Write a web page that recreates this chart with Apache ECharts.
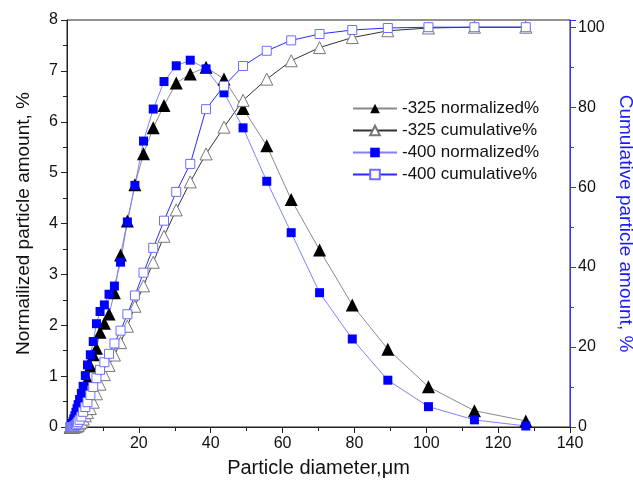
<!DOCTYPE html>
<html>
<head>
<meta charset="utf-8">
<title>Particle size distribution</title>
<script src="https://cdn.jsdelivr.net/npm/echarts@6/dist/echarts.min.js"></script>
<style>
  html, body { margin: 0; padding: 0; background: #fff; }
  #chart { width: 633px; height: 486px; }
</style>
</head>
<body>
<div id="chart"></div>
<script>
// particle diameter bins, um
var diameters = [0.9, 1.1, 1.3, 1.5, 1.7, 1.9, 2.2, 2.5, 2.8, 3.1, 3.5, 4.0, 4.5, 5.1, 5.7, 6.5, 7.3, 8.2, 9.2, 10.4,
  11.7, 13.2, 14.9, 16.8, 18.9, 21.3, 24.0, 27.0, 30.4, 34.3, 38.7, 43.7, 49.0, 55.6, 62.4, 70.3, 79.4, 89.3, 100.6, 113.4, 127.7];

var norm325 = [0, 0, 0, 0.01, 0.02, 0.03, 0.06, 0.09, 0.14, 0.20, 0.28, 0.38, 0.50, 0.67, 0.94, 1.20, 1.42, 1.55, 1.86, 2.04,
  2.22, 2.64, 3.38, 4.05, 4.76, 5.37, 5.88, 6.32, 6.76, 6.94, 7.07, 6.84, 6.26, 5.53, 4.47, 3.48, 2.40, 1.53, 0.79, 0.32, 0.12];

var cum325 = [0, 0, 0, 0, 0, 0, 0, 0.1, 0.2, 0.4, 0.8, 1.2, 2.0, 2.8, 3.6, 4.6, 6.2, 8.3, 10.7, 13.1,
  15.4, 18.0, 21.1, 25.2, 30.2, 35.3, 41.2, 47.7, 54.3, 61.3, 68.3, 75.0, 81.7, 87.0, 91.6, 94.9, 97.4, 99.1, 99.8, 100, 100];

var norm400 = [0.01, 0.02, 0.04, 0.07, 0.11, 0.16, 0.22, 0.29, 0.36, 0.44, 0.54, 0.66, 0.80, 1.01, 1.22, 1.42, 1.68, 2.03, 2.27, 2.40,
  2.61, 2.77, 3.24, 4.03, 4.75, 5.62, 6.25, 6.79, 7.10, 7.21, 7.04, 6.57, 5.88, 4.83, 3.82, 2.64, 1.73, 0.92, 0.40, 0.14, 0.02];

var cum400 = [0, 0, 0, 0, 0, 0.1, 0.3, 0.5, 0.8, 1.2, 1.8, 2.6, 3.8, 5.0, 6.2, 8.0, 10.0, 12.2, 14.3, 16.2,
  18.3, 20.9, 24.1, 28.2, 32.9, 38.6, 44.8, 51.6, 58.8, 65.8, 79.5, 85.3, 90.3, 94.1, 96.7, 98.3, 99.3, 99.8, 100, 100, 100];

var xTicks = [0, 20, 40, 60, 80, 100, 120, 140];

function pairs(vals) {
  return diameters.map(function (d, i) { return [d, vals[i]]; });
}

var font = 'Liberation Sans, Arial, sans-serif';
var chart = echarts.init(document.getElementById('chart'));

chart.setOption({
  animation: false,
  backgroundColor: '#fff',
  textStyle: { fontFamily: font },
  grid: {
    left: 67, right: 63, top: 20, bottom: 59,
    outerBoundsMode: 'none', containLabel: false,
    show: true, borderColor: '#222', borderWidth: 1
  },
  legend: {
    orient: 'vertical',
    left: 347, top: 95,
    itemWidth: 44, itemHeight: 12, itemGap: 5,
    textStyle: { fontSize: 17, color: '#111', fontFamily: font },
    data: ['-325 normalized%', '-325 cumulative%', '-400 normalized%', '-400 cumulative%']
  },
  xAxis: {
    type: 'value',
    min: xTicks[0], max: xTicks[xTicks.length - 1], interval: 20,
    name: 'Particle diameter,\u03bcm',
    nameLocation: 'middle', nameGap: 31,
    nameTextStyle: { fontSize: 20, color: '#111' },
    axisLine: { lineStyle: { color: '#222' } },
    axisTick: { inside: false, length: 6, lineStyle: { color: '#222' } },
    minorTick: { show: true, splitNumber: 2, length: 4, lineStyle: { color: '#222' } },
    axisLabel: { fontSize: 16, color: '#111', margin: 9, showMinLabel: false },
    splitLine: { show: false }
  },
  yAxis: [{
    type: 'value',
    min: 0, max: 8, interval: 1,
    name: 'Normailized particle amount, %',
    nameLocation: 'middle', nameGap: 34,
    nameTextStyle: { fontSize: 19, color: '#111' },
    axisLine: { show: true, lineStyle: { color: '#222' } },
    axisTick: { length: 6, lineStyle: { color: '#222' } },
    minorTick: { show: true, splitNumber: 2, length: 4, lineStyle: { color: '#222' } },
    axisLabel: { fontSize: 16, color: '#111', margin: 9 },
    splitLine: { show: false }
  }, {
    type: 'value',
    position: 'right',
    min: 0, max: 101.8, interval: 20,
    name: 'Cumulative particle amount, %',
    nameLocation: 'middle', nameGap: 41, nameRotate: -90,
    nameTextStyle: { fontSize: 19, color: '#1a1aff' },
    axisLine: { show: true, lineStyle: { color: '#3333ff' } },
    axisTick: { length: 6, lineStyle: { color: '#3333ff' } },
    minorTick: { show: true, splitNumber: 2, length: 4, lineStyle: { color: '#3333ff' } },
    axisLabel: { fontSize: 16, color: '#111', margin: 8, showMaxLabel: false },
    splitLine: { show: false }
  }],
  series: [{
    name: '-325 normalized%',
    type: 'line', yAxisIndex: 0,
    data: pairs(norm325),
    symbol: 'triangle', symbolSize: 13,
    itemStyle: { color: '#000', borderColor: '#000', borderWidth: 0 },
    lineStyle: { color: '#8a8a8a', width: 1 }
  }, {
    name: '-325 cumulative%',
    type: 'line', yAxisIndex: 1,
    data: pairs(cum325),
    symbol: 'triangle', symbolSize: 12,
    itemStyle: { color: '#fff', borderColor: '#777', borderWidth: 1 },
    lineStyle: { color: '#333', width: 1 }
  }, {
    name: '-400 normalized%',
    type: 'line', yAxisIndex: 0,
    data: pairs(norm400),
    symbol: 'rect', symbolSize: 9,
    itemStyle: { color: '#0000ff', borderColor: '#0000ff', borderWidth: 0 },
    lineStyle: { color: '#8080ff', width: 1 }
  }, {
    name: '-400 cumulative%',
    type: 'line', yAxisIndex: 1,
    data: pairs(cum400),
    symbol: 'rect', symbolSize: 9,
    itemStyle: { color: '#fff', borderColor: '#6e6eff', borderWidth: 1 },
    lineStyle: { color: '#2a2aff', width: 1 }
  }]
});
</script>
</body>
</html>
